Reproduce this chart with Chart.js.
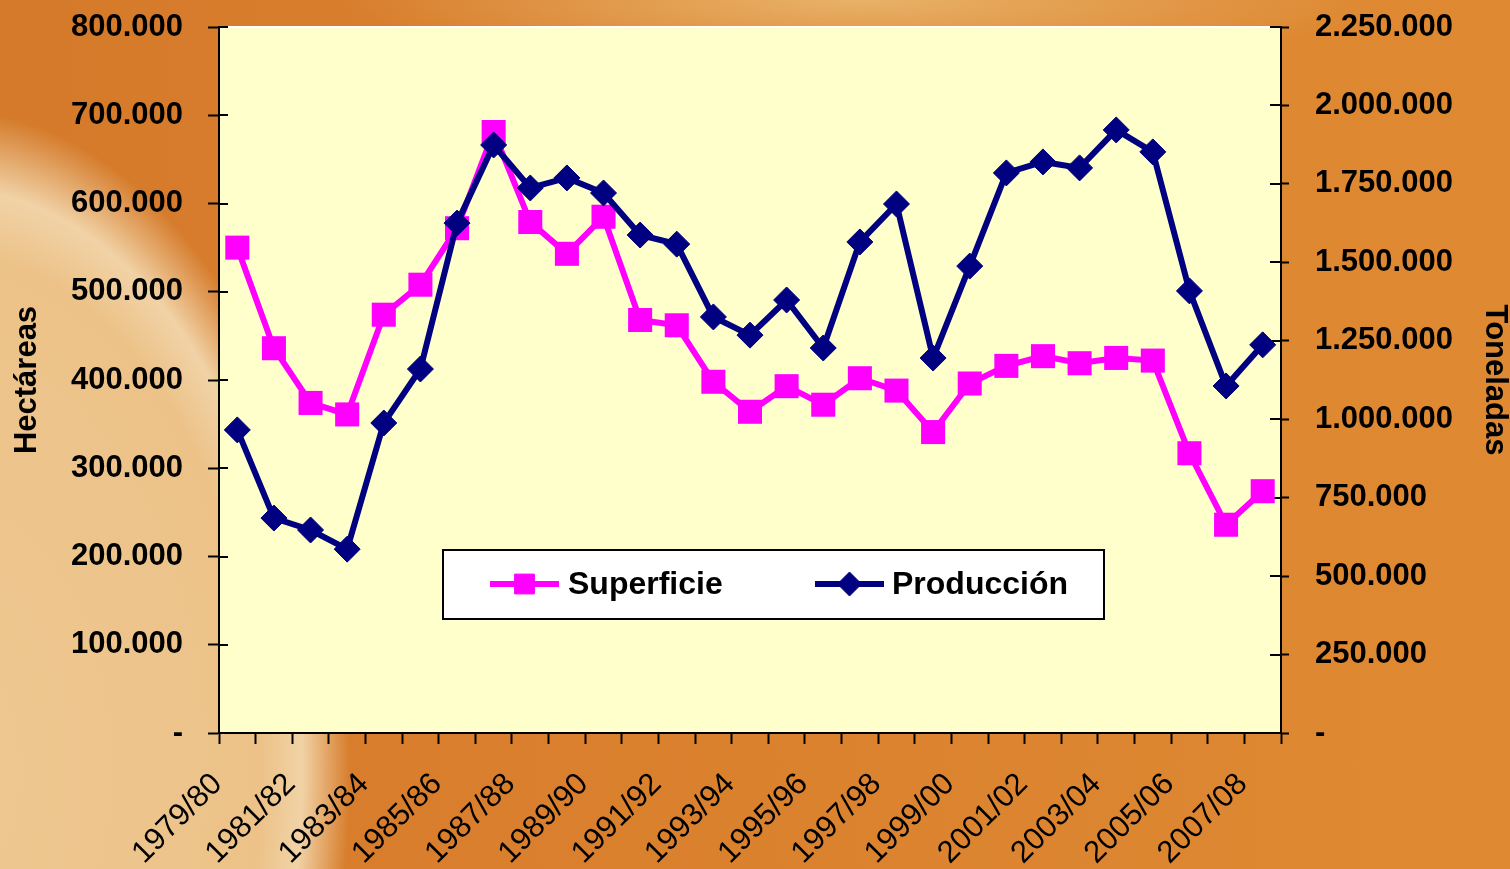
<!DOCTYPE html>
<html>
<head>
<meta charset="utf-8">
<script src="https://cdn.jsdelivr.net/npm/chart.js@4.4.1/dist/chart.umd.min.js"></script>
<style>
html,body{margin:0;padding:0;width:1510px;height:869px;overflow:hidden;}
body{
  background:
    radial-gradient(ellipse 400px 660px at -50px 770px, rgba(238,200,146,1) 0%, rgba(236,194,136,1) 78%, rgba(244,220,180,0.9) 88%, rgba(236,194,136,0) 100%),
    radial-gradient(ellipse 520px 70px at 860px 0px, rgba(232,178,104,1) 0%, rgba(232,178,104,0) 100%),
    linear-gradient(90deg, #D47A2A 0%, #D97F2D 35%, #DF8A33 100%);
}
#wrap{position:relative;width:1510px;height:869px;}
</style>
</head>
<body>
<div id="wrap"><canvas id="c" width="1510" height="869"></canvas></div>
<script>
const categories = ['1979/80','1980/81','1981/82','1982/83','1983/84','1984/85','1985/86','1986/87','1987/88','1988/89',
  '1989/90','1990/91','1991/92','1992/93','1993/94','1994/95','1995/96','1996/97','1997/98','1998/99',
  '1999/00','2000/01','2001/02','2002/03','2003/04','2004/05','2005/06','2006/07','2007/08'];

const superficie = [550000,436000,374000,361000,474000,508000,572000,681000,579000,543000,
  585000,468000,462000,398000,364000,393000,372000,402000,388000,341000,
  396000,416000,427000,419000,425000,422000,317000,236000,274000];

const produccion = [966000,685000,647000,586000,988000,1160000,1625000,1874000,1737000,1769000,
  1721000,1587000,1558000,1326000,1268000,1380000,1227000,1565000,1686000,1195000,
  1488000,1785000,1820000,1801000,1922000,1852000,1409000,1106000,1237000];

const leftTickLabels = ['-','100.000','200.000','300.000','400.000','500.000','600.000','700.000','800.000'];
const rightTickLabels = ['-','250.000','500.000','750.000','1.000.000','1.250.000','1.500.000','1.750.000','2.000.000','2.250.000'];

const FAM = "'Liberation Sans', Arial, Helvetica, sans-serif";

const decor = {
  id: 'decor',
  beforeDraw(chart) {
    const {ctx, chartArea: a} = chart;
    ctx.save();
    ctx.fillStyle = '#FFFFCC';
    ctx.fillRect(a.left, a.top, a.right - a.left, a.bottom - a.top);
    ctx.strokeStyle = '#FFFFFF';
    ctx.lineWidth = 2;
    ctx.beginPath();
    ctx.moveTo(a.left, a.top);
    ctx.lineTo(a.right, a.top);
    ctx.stroke();
    ctx.restore();
  },
  beforeDatasetsDraw(chart) {
    const {ctx, chartArea: a} = chart;
    ctx.save();
    ctx.strokeStyle = '#000';
    ctx.lineWidth = 2;
    const yL = chart.scales.yL, yR = chart.scales.yR;
    yL.ticks.forEach((t, i) => {
      const y = Math.round(yL.getPixelForTick(i));
      ctx.beginPath(); ctx.moveTo(a.left, y); ctx.lineTo(a.left + 9, y); ctx.stroke();
    });
    yR.ticks.forEach((t, i) => {
      const y = Math.round(yR.getPixelForTick(i));
      ctx.beginPath(); ctx.moveTo(a.right - 11, y); ctx.lineTo(a.right, y); ctx.stroke();
    });
    ctx.restore();
  },
  afterDraw(chart) {
    const {ctx, chartArea: a} = chart;
    const bx = a.left + 224, by = a.top + 523, bw = 661, bh = 69;
    ctx.save();
    ctx.fillStyle = '#FFFFFF';
    ctx.fillRect(bx, by, bw, bh);
    ctx.strokeStyle = '#000';
    ctx.lineWidth = 2;
    ctx.strokeRect(bx, by, bw, bh);
    const cy = by + 34;
    const items = [
      {ds: chart.data.datasets[0], lx: bx + 47, tx: bx + 125, r: 14},
      {ds: chart.data.datasets[1], lx: bx + 372, tx: bx + 449, r: 12}
    ];
    items.forEach(it => {
      ctx.strokeStyle = it.ds.borderColor;
      ctx.lineWidth = 6;
      ctx.beginPath(); ctx.moveTo(it.lx, cy); ctx.lineTo(it.lx + 69, cy); ctx.stroke();
      ctx.fillStyle = it.ds.backgroundColor;
      ctx.strokeStyle = it.ds.borderColor;
      ctx.lineWidth = 1;
      Chart.helpers.drawPoint(ctx, {pointStyle: it.ds.pointStyle, radius: it.r, rotation: 0, borderWidth: 1}, it.lx + 34.5, cy);
      ctx.fillStyle = '#000';
      ctx.font = 'bold 32px ' + FAM;
      ctx.textBaseline = 'middle';
      ctx.textAlign = 'left';
      ctx.fillText(it.ds.label, it.tx, cy + 1);
    });
    ctx.restore();
  }
};

new Chart(document.getElementById('c').getContext('2d'), {
  type: 'line',
  data: {
    labels: categories,
    datasets: [
      {label: 'Superficie', data: superficie, yAxisID: 'yL', borderColor: '#FF00FF', backgroundColor: '#FF00FF',
       pointBorderColor: '#FF00FF', pointBackgroundColor: '#FF00FF', borderWidth: 6, pointStyle: 'rect',
       pointRadius: 17, pointBorderWidth: 0, tension: 0, order: 1},
      {label: 'Producción', data: produccion, yAxisID: 'yR', borderColor: '#000080', backgroundColor: '#000080',
       pointBorderColor: '#000080', pointBackgroundColor: '#000080', borderWidth: 6, pointStyle: 'rectRot',
       pointRadius: 13, pointBorderWidth: 1, tension: 0, order: 0}
    ]
  },
  options: {
    responsive: false,
    animation: false,
    events: [],
    layout: {padding: {top: 27, left: 0, right: 0, bottom: 0}},
    plugins: {legend: {display: false}, tooltip: {enabled: false}},
    scales: {
      x: {
        type: 'category', offset: true,
        grid: {display: true, drawOnChartArea: false, offset: true, tickLength: 11, color: '#000', tickWidth: 2},
        border: {display: true, color: '#000', width: 2},
        ticks: {autoSkip: false, maxRotation: 45, minRotation: 45, padding: 22, labelOffset: -20, color: '#000',
          font: {family: FAM, size: 31},
          callback: (v, i) => (i % 2 === 0 ? categories[i] : '')},
        afterFit: s => { s.height = 136; s.paddingLeft = 0; s.paddingRight = 0; }
      },
      yL: {
        position: 'left', min: 0, max: 800000,
        grid: {display: true, drawOnChartArea: false, tickLength: 11, color: '#000', tickWidth: 2},
        border: {display: true, color: '#000', width: 2},
        ticks: {stepSize: 100000, padding: 25, color: '#000', font: {family: FAM, size: 31, weight: 'bold'},
          callback: (v, i) => leftTickLabels[i]},
        title: {display: true, text: 'Hectáreas', color: '#000', padding: {top: 12, bottom: 0},
          font: {family: FAM, size: 31, weight: 'bold', lineHeight: 1}},
        afterFit: s => { s.width = 219; s.paddingTop = 0; s.paddingBottom = 0; }
      },
      yR: {
        position: 'right', min: 0, max: 2250000,
        grid: {display: true, drawOnChartArea: false, tickLength: 8, color: '#000', tickWidth: 2},
        border: {display: true, color: '#000', width: 2},
        ticks: {stepSize: 250000, padding: 26, color: '#000', font: {family: FAM, size: 31, weight: 'bold'},
          callback: (v, i) => rightTickLabels[i]},
        title: {display: true, text: 'Toneladas', color: '#000', padding: {top: 0, bottom: 0},
          font: {family: FAM, size: 31, weight: 'bold', lineHeight: 1}},
        afterFit: s => { s.width = 229; s.paddingTop = 0; s.paddingBottom = 0; }
      }
    }
  },
  plugins: [decor]
});
</script>
</body>
</html>
